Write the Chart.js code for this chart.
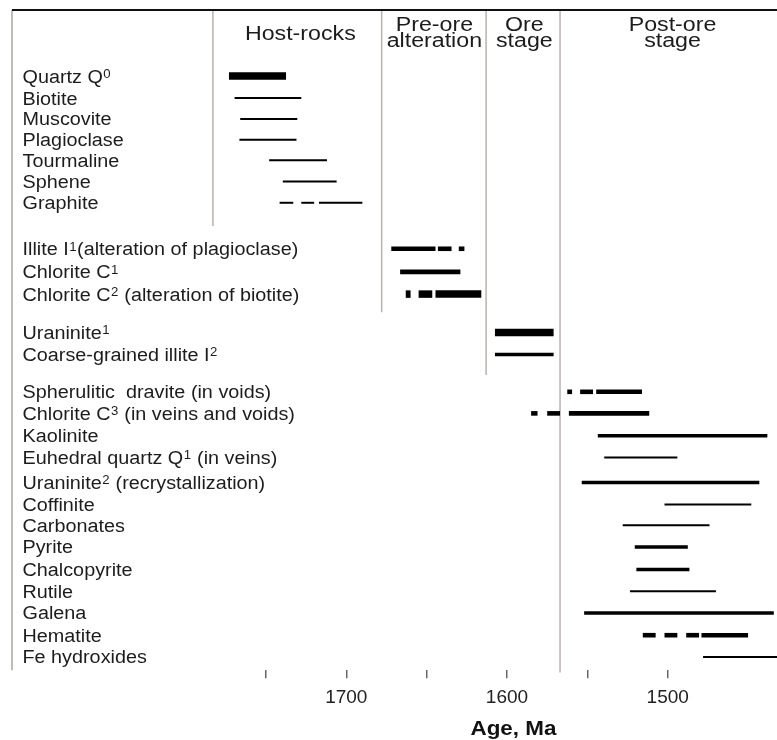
<!DOCTYPE html>
<html>
<head>
<meta charset="utf-8">
<script src="https://cdn.jsdelivr.net/npm/chart.js@4.4.1/dist/chart.umd.min.js"></script>
<style>
  html, body { margin: 0; padding: 0; background: #fff; }
</style>
</head>
<body>
<canvas id="paragenesis" width="777" height="740"></canvas>
<script>
// minerals, top to bottom
const minerals = [
  'Quartz Q⁰', 'Biotite', 'Muscovite', 'Plagioclase', 'Tourmaline', 'Sphene', 'Graphite',
  'Illite I¹(alteration of plagioclase)', 'Chlorite C¹', 'Chlorite C² (alteration of biotite)',
  'Uraninite¹', 'Coarse-grained illite I²',
  'Spherulitic  dravite (in voids)', 'Chlorite C³ (in veins and voids)', 'Kaolinite',
  'Euhedral quartz Q¹ (in veins)', 'Uraninite² (recrystallization)', 'Coffinite', 'Carbonates',
  'Pyrite', 'Chalcopyrite', 'Rutile', 'Galena', 'Hematite', 'Fe hydroxides'
];

// row of each mineral on the (hidden) vertical axis
const rowPos = [
  0, 1, 1.95, 2.9, 3.83, 4.79, 5.76,
  7.85, 8.9, 9.91,
  11.65, 12.65,
  14.35, 15.33, 16.35, 17.33, 18.47, 19.47, 20.41, 21.4, 22.42, 23.41, 24.4, 25.41, 26.4
];

// age ranges (Ma) of each mineral, several pieces where the line is dashed
const ranges = [
  [[1773, 1737.5]],
  [[1769.5, 1728]],
  [[1766, 1730.5]],
  [[1766.5, 1731]],
  [[1748, 1712]],
  [[1739.5, 1706]],
  [[1741.5, 1733], [1728, 1720], [1717, 1690]],
  [[1672, 1644.5], [1643, 1634.5], [1630, 1626.5]],
  [[1666.5, 1629]],
  [[1663, 1660], [1655, 1646.5], [1644.5, 1616]],
  [[1607.5, 1571]],
  [[1607.5, 1571]],
  [[1562.5, 1559.5], [1554.5, 1546.5], [1544.5, 1516]],
  [[1585, 1581], [1575, 1567], [1561.5, 1511.5]],
  [[1543.5, 1438]],
  [[1539.5, 1494]],
  [[1553.5, 1443]],
  [[1502, 1448]],
  [[1528, 1474]],
  [[1520.5, 1487.5]],
  [[1519.5, 1486.5]],
  [[1523.5, 1470]],
  [[1552, 1434]],
  [[1515.5, 1507.5], [1502, 1494], [1488.5, 1480.5], [1479, 1450]],
  [[1478, 1432]]
];

// stages
const stageNames = [['Host-rocks'], ['Pre-ore', 'alteration'], ['Ore', 'stage'], ['Post-ore', 'stage']];
const stageCentre = [1728.6, 1645.2, 1589.2, 1497];
const stageBounds = [1783, 1678, 1613, 1567];
const boundEnds = [6.82, 10.73, 13.59, 27.1];

// age axis
const ageTicks = [1750, 1700, 1650, 1600, 1550, 1500];
const ageLabels = [1700, 1600, 1500];

// line weight of each mineral (style, kept apart from the data)
const rowWeight = [
  'heavy', 'thin', 'thin', 'thin', 'thin', 'thin', 'thin',
  'bold', 'bold', 'heavy',
  'heavy', 'medium',
  'bold', 'bold', 'medium', 'thin', 'medium', 'thin', 'thin', 'medium', 'medium', 'thin', 'medium', 'bold', 'thin'
];
const weightPx = { heavy: 7.5, bold: 4.6, medium: 3.5, thin: 2 };

const FONT = "'Liberation Sans', Arial, Helvetica, sans-serif";
const SUP = { '⁰': '0', '¹': '1', '²': '2', '³': '3' };

const datasets = [];
ranges.forEach((pieces, i) => {
  pieces.forEach(([from, to]) => {
    datasets.push({
      data: [{ x: from, y: rowPos[i] }, { x: to, y: rowPos[i] }],
      borderColor: '#000',
      borderWidth: weightPx[rowWeight[i]],
      borderCapStyle: 'butt',
      pointRadius: 0,
      clip: false
    });
  });
});

// stretched text, the figure's lettering is a little wide
const stretchText = (ctx, str, x, y, sx) => {
  ctx.save();
  ctx.translate(x, y);
  ctx.scale(sx, 1);
  ctx.fillText(str, 0, 0);
  ctx.restore();
};

const drawLabel = (ctx, str, x, y) => {
  const sx = 1.1;
  let cx = x;
  let run = '';
  ctx.textAlign = 'left';
  const flush = () => {
    if (!run) return;
    ctx.font = '18px ' + FONT;
    stretchText(ctx, run, cx, y, sx);
    cx += ctx.measureText(run).width * sx;
    run = '';
  };
  for (const ch of str) {
    if (SUP[ch]) {
      flush();
      ctx.font = '12px ' + FONT;
      stretchText(ctx, SUP[ch], cx + 0.5, y - 4.5, sx);
      cx += ctx.measureText(SUP[ch]).width * sx + 1;
    } else {
      run += ch;
    }
  }
  flush();
};

const paragenesisDecor = {
  id: 'paragenesisDecor',
  beforeDatasetsDraw(chart) {
    const { ctx, chartArea: area, scales: { x, y } } = chart;
    ctx.save();
    ctx.strokeStyle = '#b9b2b0';
    ctx.lineWidth = 1.5;
    stageBounds.forEach((age, i) => {
      const px = x.getPixelForValue(age);
      ctx.beginPath();
      ctx.moveTo(px, area.top);
      ctx.lineTo(px, y.getPixelForValue(boundEnds[i]));
      ctx.stroke();
    });
    ctx.strokeStyle = '#aaa4a2';
    ctx.beginPath();
    ctx.moveTo(area.left, area.top);
    ctx.lineTo(area.left, area.bottom);
    ctx.stroke();
    ctx.strokeStyle = '#111';
    ctx.lineWidth = 2;
    ctx.beginPath();
    ctx.moveTo(area.left, area.top);
    ctx.lineTo(area.right, area.top);
    ctx.stroke();
    ctx.restore();
  },
  afterDatasetsDraw(chart) {
    const { ctx, chartArea: area, scales: { x, y } } = chart;
    ctx.save();
    ctx.fillStyle = '#1c1c1c';
    ctx.textBaseline = 'alphabetic';

    minerals.forEach((name, i) => {
      drawLabel(ctx, name, area.left + 10.5, y.getPixelForValue(rowPos[i]) + 6.5);
    });

    ctx.font = '20px ' + FONT;
    ctx.textAlign = 'center';
    stageNames.forEach((lines, i) => {
      const cx = x.getPixelForValue(stageCentre[i]);
      if (lines.length === 1) {
        stretchText(ctx, lines[0], cx, area.top + 29.5, 1.16);
      } else {
        stretchText(ctx, lines[0], cx, area.top + 21, 1.16);
        stretchText(ctx, lines[1], cx, area.top + 36.5, 1.16);
      }
    });

    ctx.font = 'bold 20px ' + FONT;
    ctx.fillStyle = '#111';
    stretchText(ctx, 'Age, Ma', x.getPixelForValue(1596), 735, 1.12);
    ctx.restore();
  }
};

new Chart(document.getElementById('paragenesis'), {
  type: 'line',
  data: { datasets },
  options: {
    responsive: false,
    animation: false,
    events: [],
    layout: { padding: { top: 10, left: 12, right: 0, bottom: 23 } },
    plugins: { legend: { display: false }, tooltip: { enabled: false } },
    scales: {
      x: {
        type: 'linear',
        reverse: true,
        min: 1432,
        max: 1908,
        border: { display: false },
        grid: { drawOnChartArea: false, tickLength: 8, color: '#666', lineWidth: 1.5 },
        afterBuildTicks: (scale) => { scale.ticks = ageTicks.map(v => ({ value: v })); },
        ticks: {
          autoSkip: false,
          maxRotation: 0,
          padding: 8,
          color: '#222',
          font: { family: FONT, size: 19 },
          callback: (v) => ageLabels.includes(v) ? String(v) : ''
        }
      },
      y: { type: 'linear', reverse: true, min: -3, max: 27, display: false }
    }
  },
  plugins: [paragenesisDecor]
});
</script>
</body>
</html>
